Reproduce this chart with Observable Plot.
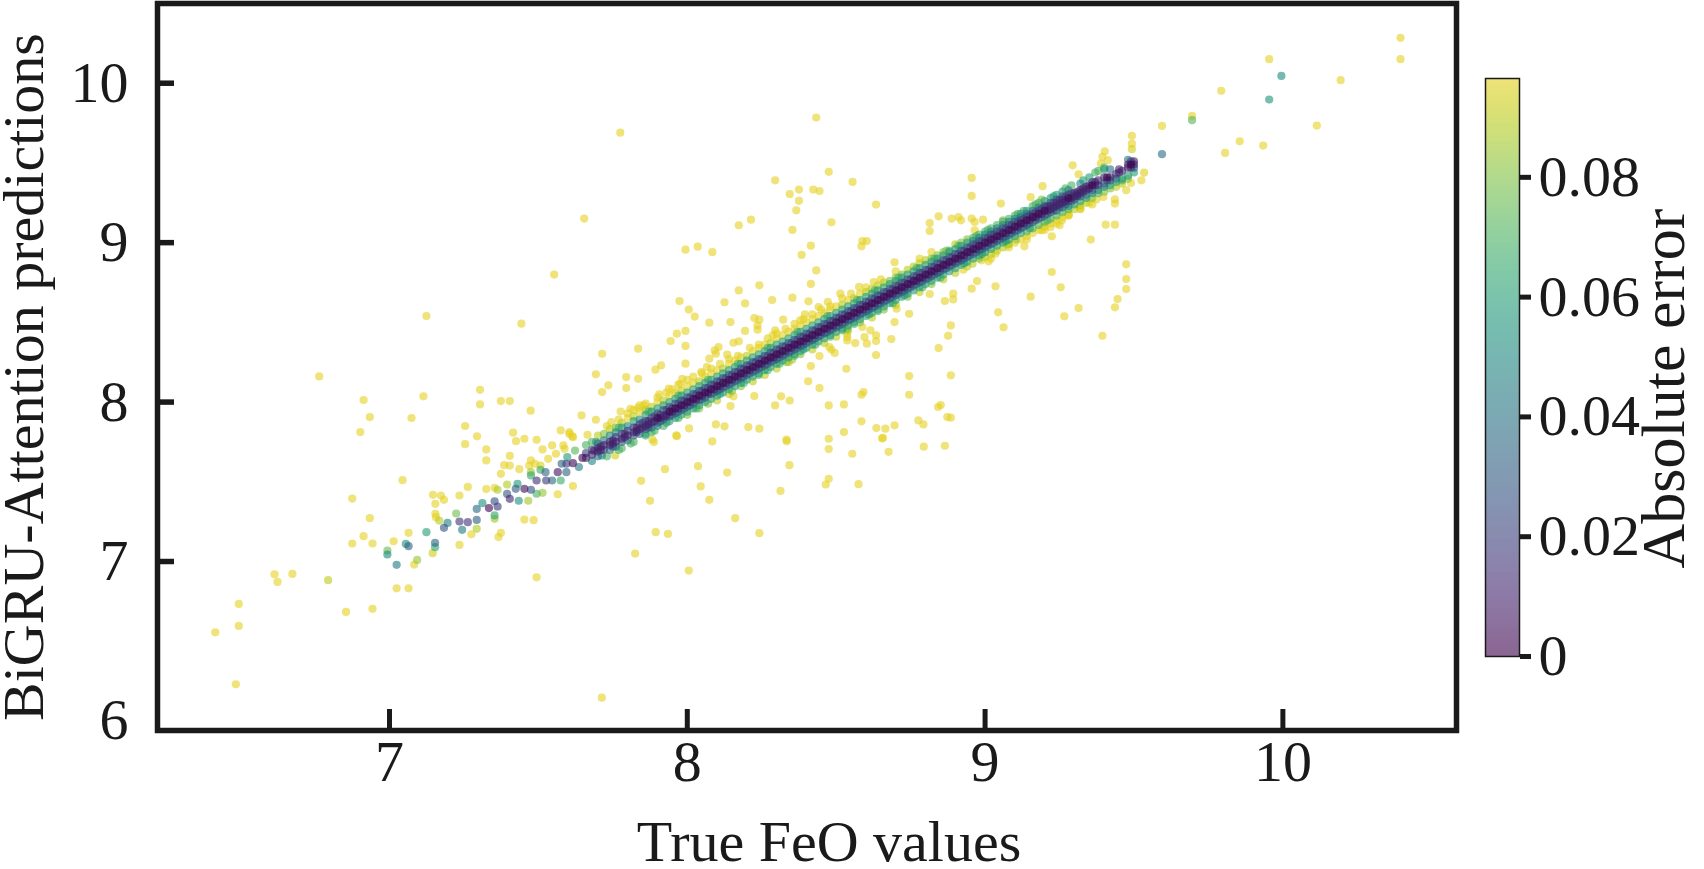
<!DOCTYPE html>
<html><head><meta charset="utf-8">
<script src="https://cdn.jsdelivr.net/npm/d3@7"></script>
<script src="https://cdn.jsdelivr.net/npm/@observablehq/plot@0.6"></script>
<style>html,body{margin:0;padding:0;background:#fff;overflow:hidden}#wrap{position:relative;width:1704px;height:869px}#bar{position:absolute;left:1440px;top:0}</style>
</head><body><div id="wrap"><div id="main"></div><div id="bar"></div></div>
<script>
const xTicks=[7,8,9,10];
const yTickMarks=[7,8,9,10];
const yTickLabels=[6,7,8,9,10];
const colorTicks=[0,0.02,0.04,0.06,0.08];
const xTitle="True FeO values";
const yTitle="BiGRU-Attention predictions";
const colorTitle="Absolute error";
// scattered points: [true, predicted]
const scatterLow=[[6.415,6.556],[6.484,6.23],[6.494,6.596],[6.494,6.734],[6.614,6.92],[6.624,6.872],[6.674,6.922],[6.764,8.161],[6.794,6.883],[6.854,6.684],[6.875,7.113],[6.875,7.395],[6.902,7.812],[6.913,8.013],[6.913,7.159],[6.934,7.906],[6.934,7.272],[6.943,7.113],[6.943,6.703],[6.993,7.069],[6.993,7.044],[7.014,7.127],[7.024,6.979],[7.024,6.832],[7.044,7.51],[7.055,7.11],[7.064,7.096],[7.064,7.18],[7.064,6.832],[7.074,7.9],[7.083,6.981],[7.093,7.01],[7.114,8.036],[7.124,8.54],[7.124,7.184],[7.145,7.052],[7.146,7.418],[7.153,7.117],[7.153,7.09],[7.154,7.362],[7.154,7.299],[7.156,7.278],[7.167,7.257],[7.173,7.414],[7.183,7.387],[7.183,7.211],[7.195,7.242],[7.224,7.301],[7.235,7.414],[7.235,7.251],[7.235,7.104],[7.244,7.199],[7.254,7.85],[7.254,7.736],[7.263,7.468],[7.263,7.247],[7.275,7.171],[7.293,7.261],[7.293,7.33],[7.293,7.205],[7.294,7.785],[7.304,8.077],[7.304,7.985],[7.312,7.366],[7.325,7.703],[7.325,7.634],[7.325,7.454],[7.334,7.335],[7.353,7.378],[7.353,7.289],[7.353,7.268],[7.353,7.462],[7.363,7.345],[7.363,7.45],[7.366,7.153],[7.374,8.006],[7.374,7.55],[7.374,7.18],[7.385,7.604],[7.395,7.483],[7.395,7.424],[7.404,8.006],[7.404,7.663],[7.404,7.602],[7.404,7.393],[7.415,7.808],[7.424,7.456],[7.425,7.755],[7.43,7.487],[7.434,7.381],[7.436,7.579],[7.443,8.492],[7.453,7.77],[7.453,7.456],[7.453,7.263],[7.466,7.381],[7.469,7.602],[7.474,7.946],[7.475,7.634],[7.475,7.56],[7.475,7.54],[7.475,7.45],[7.484,7.259],[7.488,7.613],[7.494,7.763],[7.494,7.508],[7.494,7.425],[7.494,6.901],[7.507,7.602],[7.507,7.575],[7.514,7.703],[7.514,7.431],[7.524,7.56],[7.526,7.508],[7.533,7.644],[7.546,7.728],[7.546,7.508],[7.553,8.8],[7.559,7.676],[7.565,7.56],[7.565,7.422],[7.575,7.822],[7.575,7.508],[7.578,7.613],[7.584,7.728],[7.588,7.707],[7.594,7.56],[7.594,7.613],[7.597,7.655],[7.604,7.812],[7.604,7.8],[7.614,7.785],[7.616,7.78],[7.616,7.617],[7.616,7.473],[7.623,7.696],[7.636,7.592],[7.645,7.916],[7.648,7.65],[7.654,9.151],[7.665,7.795],[7.687,7.696],[7.693,7.889],[7.693,8.174],[7.694,7.749],[7.713,7.665],[7.713,6.146],[7.714,8.303],[7.714,8.063],[7.735,8.105],[7.745,7.874],[7.758,7.665],[7.775,9.69],[7.776,7.941],[7.795,8.157],[7.795,8.088],[7.809,7.958],[7.825,7.05],[7.835,8.335],[7.835,8.146],[7.835,7.964],[7.845,7.506],[7.854,7.979],[7.875,7.381],[7.883,7.764],[7.888,7.749],[7.893,8.203],[7.894,7.184],[7.906,8.048],[7.912,8.23],[7.925,7.579],[7.935,7.173],[7.938,8.084],[7.944,8.383],[7.963,7.791],[7.965,8.429],[7.965,7.786],[7.974,8.634],[7.976,8.115],[7.983,8.146],[7.994,8.956],[7.994,8.446],[7.994,8.352],[7.994,8.241],[8.005,8.58],[8.005,6.943],[8.006,7.835]];
const scatterMid=[[8.025,8.536],[8.035,8.975],[8.036,7.598],[8.045,7.471],[8.047,8.188],[8.066,8.22],[8.074,8.498],[8.074,8.272],[8.074,7.387],[8.084,8.94],[8.084,7.753],[8.092,8.324],[8.096,8.303],[8.096,7.86],[8.105,8.345],[8.125,8.626],[8.125,7.848],[8.134,8.297],[8.134,7.558],[8.145,8.502],[8.145,7.975],[8.155,8.372],[8.155,8.036],[8.161,7.272],[8.173,9.109],[8.173,8.7],[8.173,8.381],[8.194,8.619],[8.194,8.446],[8.205,7.843],[8.214,9.144],[8.225,8.527],[8.225,8.038],[8.236,8.481],[8.236,8.454],[8.242,8.732],[8.242,8.517],[8.242,7.833],[8.242,7.178],[8.285,8.64],[8.287,8.418],[8.295,9.391],[8.295,8.45],[8.295,7.979],[8.313,7.443],[8.315,8.036],[8.322,8.517],[8.333,8.251],[8.333,7.764],[8.334,7.755],[8.343,7.604],[8.344,9.305],[8.344,8.01],[8.352,8.266],[8.353,9.08],[8.353,8.655],[8.366,9.203],[8.375,9.333],[8.375,9.262],[8.379,8.513],[8.384,8.923],[8.395,8.55],[8.406,8.13],[8.407,8.632],[8.415,8.981],[8.415,8.741],[8.415,8.226],[8.423,9.333],[8.433,9.785],[8.433,8.826],[8.441,8.596],[8.444,9.324],[8.444,8.289],[8.444,8.088],[8.465,7.483],[8.472,8.628],[8.475,9.444],[8.475,7.979],[8.475,7.77],[8.475,7.705],[8.475,7.519],[8.477,8.345],[8.484,9.128],[8.484,8.329],[8.495,8.308],[8.514,8.68],[8.526,7.985],[8.526,7.812],[8.534,8.209],[8.537,8.46],[8.537,8.429],[8.537,8.408],[8.537,8.387],[8.554,7.676],[8.555,9.381],[8.564,8.37],[8.575,7.485],[8.577,8.722],[8.585,8.977],[8.585,8.046],[8.585,7.879],[8.588,9.01],[8.588,8.471],[8.592,8.063],[8.595,8.408],[8.603,9.01],[8.603,8.366],[8.615,8.45],[8.626,8.753],[8.634,9.239],[8.634,8.419],[8.634,8.383],[8.634,8.295],[8.635,7.837],[8.654,7.772],[8.657,7.776],[8.665,7.833],[8.676,7.688],[8.685,8.395],[8.696,8.877],[8.696,8.502],[8.696,7.854],[8.703,8.586],[8.745,8.554],[8.745,8.163],[8.745,8.046],[8.776,7.885],[8.793,7.86],[8.794,7.72],[8.814,9.123],[8.814,9.073],[8.814,8.678],[8.842,7.969],[8.844,9.165],[8.844,8.339],[8.851,7.981],[8.865,8.634],[8.865,7.726],[8.873,7.906],[8.876,8.416],[8.885,8.481],[8.885,8.168],[8.885,7.902],[8.888,9.151],[8.893,8.68],[8.893,8.644],[8.911,9.161],[8.919,9.14],[8.927,8.83],[8.955,9.406],[8.955,9.293],[8.955,9.151],[8.955,8.711],[8.958,8.868],[8.965,9.13],[8.965,9.077],[8.973,8.759],[8.988,8.889],[8.993,9.144]];
const scatterHigh=[[9.012,8.883],[9.035,8.931],[9.035,8.726],[9.044,8.563],[9.053,9.245],[9.062,8.469],[9.076,8.988],[9.104,9.019],[9.132,8.977],[9.153,9.285],[9.153,8.661],[9.189,9.077],[9.193,9.354],[9.197,9.098],[9.22,9.098],[9.224,9.04],[9.224,8.816],[9.25,9.109],[9.254,8.72],[9.258,9.14],[9.266,8.538],[9.281,9.172],[9.294,9.485],[9.314,9.429],[9.314,8.59],[9.32,9.213],[9.351,9.251],[9.355,9.019],[9.374,9.27],[9.389,9.496],[9.394,9.538],[9.394,8.416],[9.397,9.287],[9.402,9.573],[9.405,9.113],[9.412,9.517],[9.436,9.272],[9.436,9.245],[9.436,9.113],[9.436,8.594],[9.445,8.646],[9.474,9.329],[9.474,8.864],[9.474,8.772],[9.474,8.709],[9.49,9.374],[9.493,9.67],[9.493,9.621],[9.493,9.586],[9.525,9.391],[9.534,9.439],[9.594,9.732],[9.594,9.555],[9.695,9.795],[9.695,9.768],[9.793,9.952],[9.806,9.563],[9.855,9.636],[9.934,9.609],[9.954,10.151],[9.954,9.898],[9.995,10.046],[10.114,9.734],[10.194,10.019],[10.395,10.285],[10.395,10.151]];
// yellow streaks hugging the ridge: [true, predicted]
const ridgeFringe=[[7.73,7.85],[7.77,7.89],[7.80,7.93],[7.82,7.95],[7.84,7.98],[7.86,7.99],[7.90,8.03],[7.93,8.06],[7.95,8.08],[7.97,8.11],[8.00,8.14],[8.02,8.16],[8.05,8.18],[8.08,8.21],[8.11,8.24],[8.14,8.27],[8.17,8.29],[8.21,8.34],[8.24,8.36],[8.27,8.40],[8.30,8.43],[8.33,8.46],[8.36,8.49],[8.39,8.52],[8.42,8.55],[8.45,8.58],[8.48,8.60],[8.52,8.65],[8.55,8.68],[8.60,8.72],[8.65,8.77],[8.70,8.82],[8.78,8.90],[8.82,8.94],[9.02,8.90],[9.08,8.97],[9.14,9.02],[9.20,9.08],[9.24,9.12],[9.28,9.17],[9.32,9.21],[9.36,9.24]];
// uneven green and teal lumps along both edges of the ridge: [true, predicted]
const ridgeLumps=[[7.73,7.66],[7.77,7.70],[7.81,7.74],[7.86,7.80],[7.89,7.82],[7.93,7.87],[7.97,7.90],[8.03,7.96],[8.07,7.99],[8.11,8.05],[8.15,8.07],[8.19,8.12],[8.24,8.17],[8.27,8.20],[8.31,8.24],[8.36,8.29],[8.39,8.33],[8.43,8.36],[8.48,8.41],[8.52,8.45],[8.56,8.49],[8.61,8.55],[8.64,8.57],[8.69,8.62],[8.73,8.67],[8.79,8.72],[8.85,8.78],[8.87,8.95],[8.91,8.98],[8.97,9.04],[9.01,9.08],[9.06,9.14],[9.11,9.18],[9.13,9.20],[9.17,9.24],[9.19,9.27],[9.23,9.29],[9.27,9.34],[9.29,9.36],[9.33,9.39],[9.35,9.41],[9.37,9.44],[9.21,9.14],[9.15,9.09],[9.07,9.01],[8.99,8.93],[8.93,8.87],[8.83,8.90],[8.77,8.84],[8.71,8.78],[8.63,8.70],[8.57,8.64],[8.47,8.54],[8.37,8.44],[8.27,8.34],[8.17,8.24],[8.07,8.14],[7.97,8.04],[7.87,7.94],[7.77,7.84]];
// dense ridge along the diagonal: [true, predicted, predicted, ...]
const ridgeRows=[
[7.66,7.73,7.68,7.65],[7.68,7.75,7.70,7.67,7.63],[7.70,7.79,7.74,7.71,7.69,7.66],[7.72,7.80,7.76,7.73,7.70],[7.74,7.83,7.79,7.75,7.73,7.70],[7.76,7.84,7.81,7.78,7.75,7.72],[7.78,7.87,7.84,7.80,7.77,7.75,7.71],[7.80,7.90,7.85,7.82,7.79,7.76],[7.82,7.91,7.88,7.84,7.81,7.79,7.75],[7.84,7.94,7.89,7.86,7.83,7.80],
[7.86,7.95,7.92,7.88,7.85,7.83,7.79],[7.88,7.97,7.94,7.90,7.87,7.84,7.81],[7.90,8.00,7.96,7.93,7.90,7.87,7.85],[7.92,8.01,7.98,7.95,7.91,7.89,7.85],[7.94,8.04,8.00,7.97,7.94,7.91,7.88],[7.96,8.06,8.02,7.99,7.96,7.93,7.90],[7.98,8.07,8.04,8.01,7.98,7.95,7.92],[8.00,8.10,8.06,8.03,8.00,7.97,7.94,7.92],[8.02,8.12,8.08,8.05,8.02,7.99,7.96],[8.04,8.13,8.10,8.07,8.04,8.01,7.98,7.96],
[8.06,8.16,8.12,8.09,8.06,8.03,8.00],[8.08,8.18,8.14,8.11,8.08,8.05,8.02],[8.10,8.20,8.16,8.13,8.10,8.07,8.04,8.01],[8.12,8.21,8.18,8.15,8.12,8.09,8.06],[8.14,8.24,8.20,8.17,8.14,8.11,8.08,8.05],[8.16,8.26,8.22,8.19,8.16,8.13,8.10],[8.18,8.28,8.24,8.21,8.18,8.15,8.12,8.10],[8.20,8.29,8.26,8.23,8.20,8.17,8.14],[8.22,8.32,8.28,8.25,8.22,8.19,8.16,8.13],[8.24,8.34,8.30,8.27,8.24,8.21,8.18],
[8.26,8.36,8.32,8.29,8.26,8.23,8.20,8.17],[8.28,8.37,8.34,8.31,8.28,8.25,8.22],[8.30,8.40,8.36,8.33,8.30,8.27,8.24,8.21],[8.32,8.42,8.38,8.35,8.32,8.29,8.26],[8.34,8.44,8.40,8.37,8.34,8.31,8.28,8.25],[8.36,8.46,8.42,8.39,8.36,8.33,8.30],[8.38,8.48,8.44,8.41,8.38,8.35,8.32,8.30],[8.40,8.50,8.46,8.43,8.40,8.37,8.34],[8.42,8.52,8.48,8.45,8.42,8.39,8.36,8.33],[8.44,8.54,8.50,8.47,8.44,8.41,8.38],
[8.46,8.56,8.52,8.49,8.46,8.43,8.40,8.37],[8.48,8.58,8.54,8.51,8.48,8.45,8.42],[8.50,8.60,8.56,8.53,8.50,8.47,8.44,8.41],[8.52,8.61,8.58,8.55,8.52,8.49,8.46],[8.54,8.64,8.60,8.57,8.54,8.51,8.48,8.45],[8.56,8.65,8.62,8.59,8.56,8.53,8.50],[8.58,8.68,8.64,8.61,8.58,8.55,8.52,8.50],[8.60,8.69,8.66,8.63,8.60,8.57,8.54],[8.62,8.71,8.68,8.65,8.62,8.59,8.56,8.53],[8.64,8.73,8.70,8.67,8.64,8.61,8.58],
[8.66,8.75,8.72,8.69,8.66,8.63,8.60,8.58],[8.68,8.76,8.74,8.71,8.68,8.65,8.62],[8.70,8.78,8.76,8.73,8.70,8.67,8.64,8.61],[8.72,8.80,8.78,8.75,8.72,8.69,8.66],[8.74,8.83,8.80,8.77,8.74,8.71,8.68,8.66],[8.76,8.85,8.82,8.79,8.76,8.73,8.70],[8.78,8.87,8.84,8.81,8.78,8.75,8.72,8.69],[8.80,8.89,8.86,8.83,8.80,8.77,8.74],[8.82,8.90,8.88,8.85,8.82,8.79,8.76,8.74],[8.84,8.92,8.90,8.87,8.84,8.81,8.78],
[8.86,8.94,8.92,8.89,8.86,8.83,8.80,8.77],[8.88,8.95,8.94,8.91,8.88,8.85,8.82],[8.90,8.99,8.96,8.93,8.90,8.87,8.84,8.81],[8.92,9.00,8.98,8.95,8.92,8.89,8.86],[8.94,9.02,9.00,8.97,8.94,8.91,8.88,8.85],[8.96,9.03,9.01,8.99,8.96,8.93,8.90],[8.98,9.05,9.03,9.01,8.98,8.95,8.92,8.90],[9.00,9.07,9.05,9.03,9.00,8.97,8.94,8.91],[9.02,9.09,9.07,9.05,9.02,8.99,8.96,8.93],[9.04,9.11,9.09,9.07,9.04,9.01,8.98,8.95],
[9.06,9.13,9.11,9.09,9.06,9.03,9.00,8.97],[9.08,9.15,9.13,9.11,9.08,9.05,9.02,8.99],[9.10,9.17,9.15,9.13,9.10,9.07,9.04,9.00],[9.12,9.18,9.16,9.14,9.12,9.09,9.06,9.02],[9.14,9.20,9.18,9.16,9.14,9.11,9.07,9.04],[9.16,9.23,9.20,9.18,9.16,9.13,9.09,9.06],[9.18,9.25,9.22,9.20,9.18,9.15,9.11,9.08],[9.20,9.26,9.23,9.22,9.20,9.17,9.13,9.10],[9.22,9.28,9.25,9.23,9.21,9.19,9.15,9.12],[9.24,9.30,9.27,9.25,9.23,9.20,9.17,9.14],
[9.26,9.32,9.29,9.27,9.25,9.22,9.19,9.16],[9.28,9.33,9.30,9.28,9.26,9.23,9.21,9.18],[9.30,9.31,9.29,9.27,9.24,9.21],[9.32,9.37,9.33,9.31,9.29,9.26,9.23],[9.34,9.35,9.33,9.30,9.28,9.25],[9.36,9.38,9.36,9.33,9.31,9.28],[9.38,9.45,9.39,9.36,9.33,9.31],[9.40,9.47,9.46,9.41,9.37,9.35,9.32],[9.42,9.46,9.41,9.39,9.36,9.34],[9.44,9.43,9.40,9.38,9.35],[9.46,9.45,9.40,9.39,9.37],[9.48,9.52,9.49,9.47,9.42,9.40],[9.50,9.51,9.49,9.47,9.44]
];
// dark core of the ridge, small errors only
const coreRows=[
[7.71,7.72,7.70],[7.75,7.76,7.74,7.72],[7.79,7.80,7.78],[7.83,7.84,7.82,7.81],[7.85,7.87,7.84],[7.87,7.88,7.86,7.84],[7.89,7.91,7.88],[7.91,7.92,7.90,7.88],[7.93,7.95,7.92,7.91],[7.95,7.96,7.94,7.92],[7.97,7.99,7.96,7.94],[7.99,8.01,7.98,7.96],
[8.01,8.03,8.00,7.98],[8.03,8.05,8.02,8.01],[8.05,8.07,8.04,8.02],[8.07,8.09,8.06,8.05],[8.09,8.11,8.08,8.06],[8.11,8.13,8.10,8.08],[8.13,8.15,8.12,8.10],[8.15,8.17,8.14,8.12],[8.17,8.19,8.16,8.14],[8.19,8.21,8.18,8.16],[8.21,8.23,8.20,8.18],[8.23,8.25,8.22,8.20],[8.25,8.27,8.24,8.22],[8.27,8.29,8.26,8.24],[8.29,8.31,8.28,8.26],[8.31,8.33,8.30,8.28],[8.33,8.35,8.32,8.30],[8.35,8.37,8.34,8.32],[8.37,8.39,8.36,8.34],[8.39,8.41,8.38,8.36],
[8.41,8.43,8.40,8.38],[8.43,8.45,8.42,8.40],[8.45,8.47,8.44,8.42],[8.47,8.49,8.46,8.44],[8.49,8.51,8.48,8.46],[8.51,8.53,8.50,8.48],[8.53,8.55,8.52,8.50],[8.55,8.57,8.54,8.52],[8.57,8.59,8.56,8.54],[8.59,8.61,8.58,8.56],[8.61,8.63,8.60,8.58],[8.63,8.65,8.62,8.60],[8.65,8.67,8.64,8.62],[8.67,8.69,8.66,8.64],[8.69,8.71,8.68,8.66],[8.71,8.73,8.70,8.68],[8.73,8.75,8.72,8.70],[8.75,8.77,8.74,8.72],[8.77,8.79,8.76,8.74],[8.79,8.81,8.78,8.76],
[8.81,8.83,8.80,8.78],[8.83,8.85,8.82,8.80],[8.85,8.87,8.84,8.82],[8.87,8.89,8.86,8.84],[8.89,8.91,8.88,8.86],[8.91,8.93,8.90,8.88],[8.93,8.95,8.92,8.90],[8.95,8.97,8.94,8.92],[8.97,8.99,8.96,8.94],[8.99,9.01,8.98,8.96],[9.01,9.03,9.00,8.98],[9.03,9.05,9.02,9.00],[9.05,9.07,9.04,9.02],[9.07,9.09,9.06,9.04],[9.09,9.11,9.08,9.06],[9.11,9.13,9.10,9.08],[9.13,9.15,9.12,9.10],[9.15,9.17,9.14,9.12],[9.17,9.19,9.16,9.14],[9.19,9.21,9.18,9.16],
[9.21,9.23,9.20,9.18],[9.23,9.25,9.22,9.20],[9.25,9.27,9.24,9.22],[9.27,9.29,9.26,9.24],[9.29,9.31,9.28,9.26],[9.31,9.32,9.30,9.29],[9.33,9.34,9.32],[9.35,9.36,9.34],[9.37,9.38,9.36],[9.41,9.41,9.39],[9.45,9.46,9.44],[9.49,9.51,9.49,9.47]
];
const toPairs=rows=>rows.flatMap(([t,...ps])=>ps.map(p=>[t,p]));
const points=d3.sort([...scatterLow,...scatterMid,...scatterHigh,...ridgeFringe,...ridgeLumps,...toPairs(ridgeRows),...toPairs(coreRows)].map(([t,p])=>({t,p,err:Math.abs(t-p)})),d=>-d.err);
const colorMax=0.0965;
const dimmedViridis=t=>{const c=d3.rgb(d3.interpolateViridis(t));return d3.rgb(c.r*0.9,c.g*0.9,c.b*0.9).formatRgb();};
const colorScale={type:"linear",interpolate:dimmedViridis,domain:[0,colorMax],clamp:true};
const ink="#1a1a1a";
const font="'Liberation Serif','Times New Roman',serif";

document.getElementById("main").append(Plot.plot({
  width:1704,height:869,marginLeft:157,marginRight:248,marginTop:3,marginBottom:139,
  style:{fontFamily:font,color:ink,background:"#fff",overflow:"visible"},
  x:{domain:[6.221,10.583]},y:{domain:[5.94,10.5]},color:colorScale,
  marks:[
    Plot.dot(points,{x:"t",y:"p",r:4.1,fill:"err",fillOpacity:0.6,stroke:null}),
    Plot.axisX({ticks:xTicks,tickSize:-21,strokeWidth:5,stroke:ink,fill:"none",label:null}),
    Plot.axisX({ticks:xTicks,tickSize:0,tickPadding:9,fontSize:58,fill:ink,label:null,tickFormat:d=>String(d)}),
    Plot.axisY({ticks:yTickMarks,tickSize:-17,strokeWidth:5.5,stroke:ink,fill:"none",label:null}),
    Plot.axisY({ticks:yTickLabels,tickSize:0,tickPadding:29,fontSize:58,fill:ink,label:null,tickFormat:d=>String(d)}),
    Plot.frame({stroke:ink,strokeWidth:5.5}),
    Plot.text([xTitle],{frameAnchor:"bottom",dx:22,dy:130,text:d=>d,fontSize:58,fill:ink,lineAnchor:"bottom"}),
    Plot.text([yTitle],{frameAnchor:"left",dx:-133,dy:10,rotate:-90,textAnchor:"middle",text:d=>d,fontSize:58,fill:ink})
  ]
}));

const colorStep=0.0005;
const colorStops=d3.range(0,colorMax,colorStep);
document.getElementById("bar").append(Plot.plot({
  width:264,height:869,marginLeft:45,marginRight:185,marginTop:78,marginBottom:213,
  style:{fontFamily:font,color:ink,background:"transparent",overflow:"visible"},
  y:{domain:[0,colorMax]},color:colorScale,
  marks:[
    Plot.rect(colorStops,{y1:d=>d,y2:d=>Math.min(d+colorStep,colorMax),fill:d=>d,fillOpacity:0.6,shapeRendering:"crispEdges"}),
    Plot.frame({stroke:ink,strokeWidth:1.5}),
    Plot.axisY({anchor:"right",ticks:colorTicks,tickSize:11,strokeWidth:5,stroke:ink,tickPadding:8,fontSize:58,fill:ink,tickFormat:d=>d===0?"0":d.toFixed(2),label:null}),
    Plot.text([colorTitle],{frameAnchor:"right",dx:145,dy:21,rotate:-90,textAnchor:"middle",text:d=>d,fontSize:62,fill:ink})
  ]
}));
</script></body></html>
